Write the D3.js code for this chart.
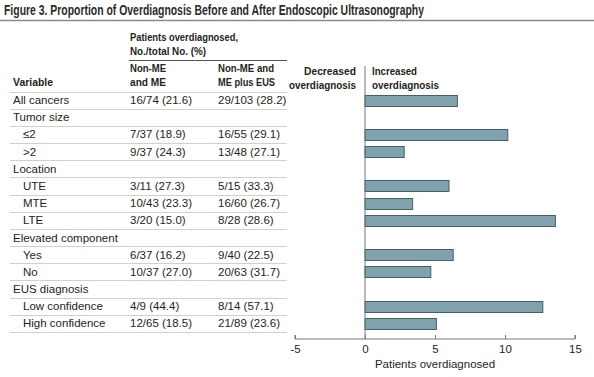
<!DOCTYPE html>
<html>
<head>
<meta charset="utf-8">
<script src="https://d3js.org/d3.v7.min.js"></script>
<style>
  body { margin: 0; background: #fff; }
  text { font-family: "Liberation Sans", Arial, sans-serif; fill: #231f20; }
</style>
</head>
<body>
<script>
// rows of the table, in order
const labels = ["All cancers", "Tumor size", "\u22642", ">2", "Location", "UTE", "MTE", "LTE",
  "Elevated component", "Yes", "No", "EUS diagnosis", "Low confidence", "High confidence"];
const indent = [0, 0, 1, 1, 0, 1, 1, 1, 0, 1, 1, 0, 1, 1];
const colBefore = ["16/74 (21.6)", "", "7/37 (18.9)", "9/37 (24.3)", "", "3/11 (27.3)", "10/43 (23.3)", "3/20 (15.0)",
  "", "6/37 (16.2)", "10/37 (27.0)", "", "4/9 (44.4)", "12/65 (18.5)"];
const colAfter = ["29/103 (28.2)", "", "16/55 (29.1)", "13/48 (27.1)", "", "5/15 (33.3)", "16/60 (26.7)", "8/28 (28.6)",
  "", "9/40 (22.5)", "20/63 (31.7)", "", "8/14 (57.1)", "21/89 (23.6)"];
// difference in percentage points (null = header row, no bar)
const diffs = [6.6, null, 10.2, 2.8, null, 6.0, 3.4, 13.6, null, 6.3, 4.7, null, 12.7, 5.1];
const xTicks = [-5, 0, 5, 10, 15];

const width = 594, height = 377;
const svg = d3.select("body").append("svg")
  .attr("width", width).attr("height", height);

// title (reference font is condensed, so squeeze it to the same length)
svg.append("text").attr("x", 4).attr("y", 14.5)
  .style("font-size", "14.5px").style("font-weight", "bold").style("fill", "#2b2b2b")
  .attr("textLength", 420).attr("lengthAdjust", "spacingAndGlyphs")
  .text("Figure 3. Proportion of Overdiagnosis Before and After Endoscopic Ultrasonography");
svg.append("line").attr("x1", 0).attr("x2", width).attr("y1", 20.5).attr("y2", 20.5)
  .attr("stroke", "#8a8a8a").attr("stroke-width", 1.5);

const y = d3.scaleBand().domain(d3.range(labels.length)).range([91.5, 332]);
const x = d3.scaleLinear().domain([-5, 15]).range([295, 575]);

// table header
const hdr = svg.append("g").style("font-size", "11.5px").style("font-weight", "bold");
const head = (tx, ty, s, len, anchor) => hdr.append("text").attr("x", tx).attr("y", ty)
  .attr("text-anchor", anchor || "start")
  .attr("textLength", len).attr("lengthAdjust", "spacingAndGlyphs").text(s);
head(130, 41, "Patients overdiagnosed,", 108);
head(130, 55, "No./total No. (%)", 76);
svg.append("line").attr("x1", 129).attr("x2", 287).attr("y1", 60.5).attr("y2", 60.5)
  .attr("stroke", "#555").attr("stroke-width", 1);
head(130, 72, "Non-ME", 36);
head(130, 86, "and ME", 36);
head(218, 72, "Non-ME and", 56);
head(218, 86, "ME plus EUS", 57);
head(13, 86, "Variable", 40);
head(356, 75, "Decreased", 52, "end");
head(356, 89, "overdiagnosis", 67, "end");
head(372, 75, "Increased", 45);
head(372, 89, "overdiagnosis", 67);

// row separators
svg.append("g").selectAll("line").data(d3.range(labels.length + 1)).join("line")
  .attr("x1", 10).attr("x2", 287)
  .attr("y1", i => Math.round(y(0) + i * y.step()) + 0.5)
  .attr("y2", i => Math.round(y(0) + i * y.step()) + 0.5)
  .attr("stroke", "#d0d0d0").attr("stroke-width", 1);

// table rows
const rows = svg.append("g").style("font-size", "11.5px");
rows.selectAll(".lab").data(labels).join("text")
  .attr("x", (d, i) => indent[i] ? 23 : 13)
  .attr("y", (d, i) => y(i) + y.bandwidth() / 2 + 4)
  .text(d => d);
rows.selectAll(".c1").data(colBefore).join("text")
  .attr("x", 130).attr("y", (d, i) => y(i) + y.bandwidth() / 2 + 4).text(d => d);
rows.selectAll(".c2").data(colAfter).join("text")
  .attr("x", 218).attr("y", (d, i) => y(i) + y.bandwidth() / 2 + 4).text(d => d);

// bars
const barH = 11;
svg.append("g").selectAll("rect").data(diffs.map((d, i) => ({ d, i })).filter(o => o.d !== null)).join("rect")
  .attr("x", o => x(Math.min(0, o.d)))
  .attr("y", o => Math.round(y(o.i) + y.bandwidth() / 2 - barH / 2) + 0.5)
  .attr("width", o => Math.abs(x(o.d) - x(0)))
  .attr("height", barH)
  .attr("fill", "#7fa2ad").attr("stroke", "#44606a").attr("stroke-width", 1);

// zero line
svg.append("line").attr("x1", x(0)).attr("x2", x(0)).attr("y1", 66).attr("y2", 339)
  .attr("stroke", "#777").attr("stroke-width", 1);

// x axis
const axis = svg.append("g").attr("transform", "translate(0,339)")
  .call(d3.axisBottom(x).tickValues(xTicks).tickSize(-4).tickPadding(4).tickFormat(d => String(d)));
axis.select(".domain").attr("stroke", "#777").attr("d", `M${x(-5)},-4V0H${x(15)}V-4`);
axis.selectAll(".tick line").attr("stroke", "#777");
axis.selectAll(".tick text").style("font-size", "11.5px").style("font-family", null).attr("dy", "0.9em");

svg.append("text").attr("x", x(5)).attr("y", 368).attr("text-anchor", "middle")
  .style("font-size", "11.5px").text("Patients overdiagnosed");
</script>
</body>
</html>
